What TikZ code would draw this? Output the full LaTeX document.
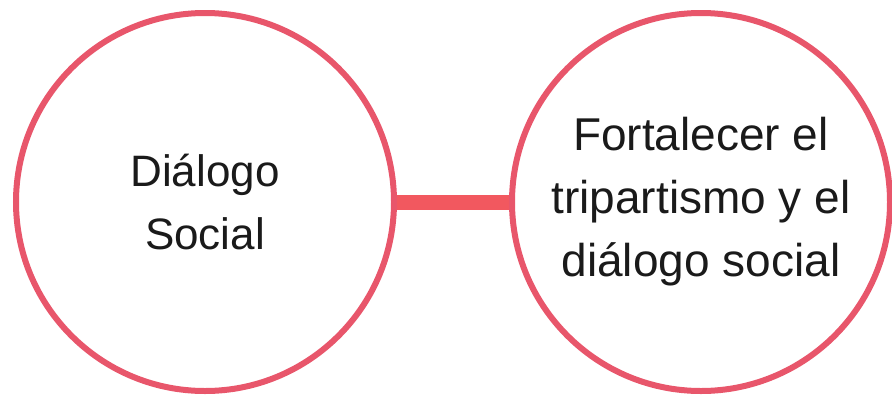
\documentclass[tikz,border=0pt]{standalone}
\usepackage{fontspec}
\setmainfont{Liberation Sans}
\usepackage{xcolor}
\usetikzlibrary{positioning}

\definecolor{ringred}{HTML}{E8566B}
\definecolor{barred}{HTML}{F2585F}
\definecolor{txtgray}{HTML}{1A1A1A}

\begin{document}
\begin{tikzpicture}[
    ring/.style={circle, draw=ringred, line width=6pt, minimum size=378pt,
      inner sep=0pt, align=center, text=txtgray,
      font=\fontsize{44}{63}\selectfont},
    linkbar/.style={draw=barred, line width=15pt}
  ]
      \useasboundingbox (0,0) rectangle (892pt,-400pt);
      \node[ring] (dialogo) at (205pt,-202pt) {Diálogo\\Social};
      \node[ring, right=112pt of dialogo, font=\fontsize{46}{63}\selectfont] (fortalecer)
        {Fortalecer el\\tripartismo y el\\diálogo social};
      \path[linkbar] (dialogo) -- (fortalecer);
    \end{tikzpicture}
\end{document}
